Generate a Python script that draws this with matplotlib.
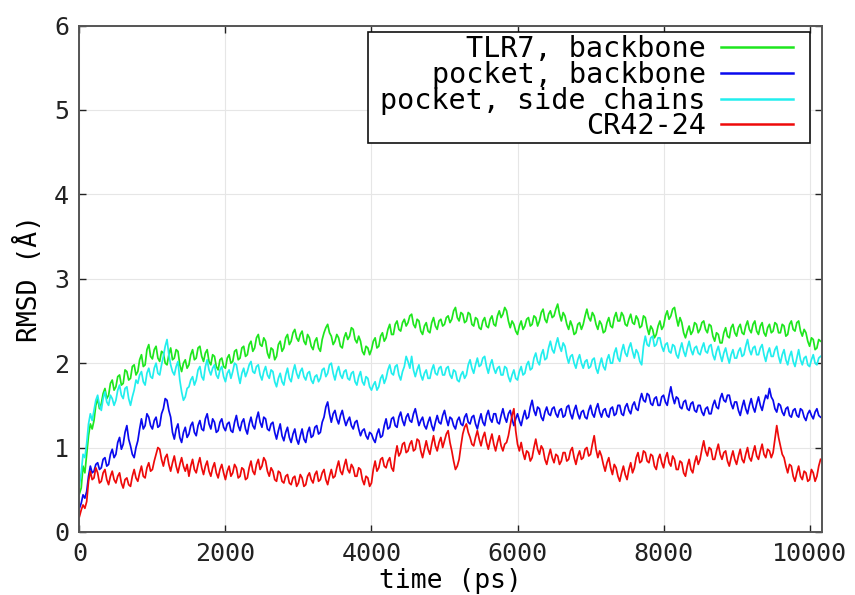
import matplotlib
matplotlib.use("Agg")
import matplotlib.pyplot as plt
from matplotlib.patches import Rectangle
import numpy as np

# time axis: one sample every 25 ps, 0 .. 10150 ps
time_ps = np.arange(0, 10151, 25)

tlr7_backbone = [
    0.45, 0.52, 0.78, 0.70, 0.92, 1.14, 1.28, 1.22, 1.32, 1.50, 1.58, 1.46, 1.52, 1.64, 1.70, 1.58, 1.62, 1.76, 1.80, 1.68,
    1.72, 1.84, 1.86, 1.74, 1.76, 1.92, 1.90, 1.80, 1.82, 1.96, 1.98, 1.86, 1.90, 2.04, 2.10, 1.96, 1.98, 2.16, 2.22, 2.08,
    2.05, 2.16, 2.20, 2.06, 2.02, 2.14, 2.12, 2.00, 1.98, 2.10, 2.18, 2.04, 2.06, 2.16, 2.14, 1.98, 1.90, 2.00, 2.04, 1.94,
    1.98, 2.10, 2.16, 2.04, 2.06, 2.18, 2.20, 2.08, 2.02, 2.12, 2.16, 2.02, 1.98, 2.10, 2.08, 1.96, 1.92, 2.04, 2.06, 1.96,
    1.94, 2.06, 2.10, 2.00, 2.02, 2.14, 2.16, 2.04, 2.06, 2.18, 2.20, 2.08, 2.10, 2.22, 2.26, 2.14, 2.18, 2.30, 2.34, 2.22,
    2.20, 2.30, 2.26, 2.12, 2.06, 2.18, 2.16, 2.04, 2.08, 2.22, 2.26, 2.14, 2.18, 2.30, 2.34, 2.22, 2.26, 2.36, 2.40, 2.30,
    2.26, 2.34, 2.38, 2.26, 2.22, 2.34, 2.30, 2.20, 2.16, 2.26, 2.30, 2.18, 2.14, 2.28, 2.36, 2.42, 2.46, 2.36, 2.32, 2.22,
    2.26, 2.34, 2.30, 2.20, 2.18, 2.30, 2.36, 2.28, 2.32, 2.42, 2.40, 2.28, 2.24, 2.32, 2.26, 2.14, 2.10, 2.20, 2.18, 2.10,
    2.16, 2.26, 2.30, 2.18, 2.20, 2.32, 2.36, 2.26, 2.30, 2.40, 2.46, 2.34, 2.34, 2.46, 2.50, 2.40, 2.38, 2.48, 2.52, 2.44,
    2.48, 2.56, 2.58, 2.46, 2.42, 2.52, 2.50, 2.38, 2.34, 2.44, 2.48, 2.38, 2.36, 2.48, 2.54, 2.44, 2.40, 2.50, 2.52, 2.44,
    2.46, 2.54, 2.56, 2.48, 2.52, 2.62, 2.66, 2.54, 2.50, 2.60, 2.58, 2.48, 2.50, 2.60, 2.58, 2.46, 2.44, 2.54, 2.52, 2.42,
    2.40, 2.50, 2.54, 2.44, 2.42, 2.52, 2.56, 2.46, 2.44, 2.56, 2.62, 2.54, 2.58, 2.66, 2.62, 2.50, 2.42, 2.50, 2.46, 2.38,
    2.34, 2.44, 2.50, 2.40, 2.44, 2.52, 2.54, 2.44, 2.46, 2.56, 2.54, 2.44, 2.50, 2.60, 2.64, 2.52, 2.48, 2.58, 2.62, 2.54,
    2.56, 2.64, 2.70, 2.58, 2.50, 2.60, 2.56, 2.46, 2.40, 2.50, 2.44, 2.34, 2.36, 2.46, 2.48, 2.40, 2.46, 2.56, 2.64, 2.54,
    2.50, 2.60, 2.56, 2.46, 2.40, 2.50, 2.46, 2.36, 2.38, 2.48, 2.54, 2.44, 2.42, 2.54, 2.60, 2.50, 2.50, 2.60, 2.56, 2.46,
    2.44, 2.52, 2.58, 2.48, 2.46, 2.56, 2.52, 2.42, 2.44, 2.56, 2.54, 2.42, 2.34, 2.44, 2.40, 2.30, 2.34, 2.44, 2.50, 2.40,
    2.44, 2.56, 2.62, 2.52, 2.56, 2.64, 2.66, 2.54, 2.44, 2.54, 2.48, 2.36, 2.30, 2.38, 2.44, 2.34, 2.38, 2.48, 2.46, 2.36,
    2.40, 2.48, 2.50, 2.40, 2.36, 2.46, 2.44, 2.32, 2.26, 2.36, 2.34, 2.24, 2.24, 2.36, 2.42, 2.32, 2.30, 2.42, 2.46, 2.36,
    2.32, 2.42, 2.46, 2.36, 2.34, 2.44, 2.50, 2.40, 2.36, 2.46, 2.50, 2.38, 2.34, 2.44, 2.48, 2.36, 2.32, 2.42, 2.46, 2.36,
    2.38, 2.48, 2.46, 2.36, 2.36, 2.46, 2.44, 2.32, 2.34, 2.46, 2.50, 2.40, 2.38, 2.48, 2.50, 2.38, 2.32, 2.40, 2.36, 2.26,
    2.20, 2.30, 2.28, 2.16, 2.18, 2.28, 2.26,
]

pocket_backbone = [
    0.28, 0.34, 0.44, 0.40, 0.48, 0.66, 0.78, 0.70, 0.72, 0.80, 0.82, 0.74, 0.76, 0.86, 0.88, 0.78, 0.80, 0.92, 0.98, 0.88,
    0.92, 1.06, 1.12, 0.98, 1.04, 1.18, 1.26, 1.10, 1.02, 0.92, 0.88, 1.00, 1.08, 1.22, 1.34, 1.22, 1.26, 1.40, 1.36, 1.26,
    1.22, 1.32, 1.36, 1.24, 1.26, 1.40, 1.46, 1.58, 1.56, 1.44, 1.36, 1.18, 1.10, 1.22, 1.28, 1.12, 1.06, 1.18, 1.24, 1.12,
    1.16, 1.26, 1.30, 1.18, 1.14, 1.26, 1.32, 1.22, 1.20, 1.34, 1.40, 1.28, 1.22, 1.34, 1.30, 1.18, 1.20, 1.30, 1.34, 1.24,
    1.20, 1.28, 1.30, 1.20, 1.18, 1.30, 1.38, 1.26, 1.20, 1.30, 1.34, 1.22, 1.16, 1.28, 1.36, 1.26, 1.22, 1.34, 1.42, 1.30,
    1.24, 1.36, 1.34, 1.22, 1.20, 1.28, 1.30, 1.18, 1.10, 1.20, 1.28, 1.14, 1.08, 1.18, 1.24, 1.12, 1.06, 1.16, 1.22, 1.10,
    1.04, 1.14, 1.22, 1.10, 1.06, 1.18, 1.24, 1.12, 1.14, 1.24, 1.26, 1.16, 1.18, 1.30, 1.36, 1.48, 1.54, 1.40, 1.30, 1.40,
    1.44, 1.34, 1.28, 1.38, 1.44, 1.34, 1.26, 1.32, 1.36, 1.26, 1.22, 1.30, 1.32, 1.22, 1.14, 1.20, 1.22, 1.14, 1.10, 1.18,
    1.16, 1.10, 1.06, 1.16, 1.22, 1.12, 1.14, 1.26, 1.34, 1.22, 1.24, 1.34, 1.36, 1.26, 1.24, 1.36, 1.42, 1.32, 1.26, 1.36,
    1.40, 1.32, 1.30, 1.40, 1.46, 1.36, 1.26, 1.32, 1.36, 1.26, 1.22, 1.30, 1.36, 1.26, 1.20, 1.30, 1.38, 1.30, 1.28, 1.38,
    1.44, 1.34, 1.26, 1.36, 1.34, 1.26, 1.22, 1.32, 1.36, 1.28, 1.26, 1.36, 1.40, 1.30, 1.28, 1.36, 1.38, 1.28, 1.22, 1.32,
    1.40, 1.30, 1.26, 1.38, 1.44, 1.34, 1.30, 1.40, 1.40, 1.30, 1.28, 1.38, 1.46, 1.36, 1.30, 1.40, 1.44, 1.34, 1.26, 1.34,
    1.40, 1.32, 1.26, 1.36, 1.44, 1.34, 1.36, 1.48, 1.56, 1.44, 1.38, 1.48, 1.46, 1.36, 1.32, 1.42, 1.48, 1.40, 1.38, 1.46,
    1.48, 1.40, 1.36, 1.44, 1.46, 1.36, 1.38, 1.48, 1.50, 1.40, 1.34, 1.44, 1.50, 1.40, 1.34, 1.42, 1.44, 1.36, 1.34, 1.44,
    1.50, 1.40, 1.36, 1.46, 1.52, 1.42, 1.36, 1.44, 1.46, 1.38, 1.36, 1.46, 1.48, 1.38, 1.40, 1.50, 1.50, 1.40, 1.38, 1.48,
    1.52, 1.44, 1.40, 1.50, 1.54, 1.46, 1.44, 1.56, 1.64, 1.56, 1.54, 1.64, 1.62, 1.52, 1.50, 1.58, 1.60, 1.50, 1.50, 1.60,
    1.62, 1.54, 1.50, 1.62, 1.72, 1.60, 1.52, 1.60, 1.58, 1.48, 1.46, 1.54, 1.56, 1.46, 1.44, 1.52, 1.54, 1.44, 1.42, 1.50,
    1.50, 1.42, 1.38, 1.46, 1.48, 1.40, 1.40, 1.50, 1.56, 1.48, 1.46, 1.58, 1.64, 1.56, 1.54, 1.62, 1.62, 1.52, 1.46, 1.54,
    1.54, 1.44, 1.38, 1.48, 1.56, 1.46, 1.40, 1.50, 1.58, 1.48, 1.42, 1.52, 1.60, 1.50, 1.44, 1.54, 1.62, 1.58, 1.70, 1.60,
    1.56, 1.46, 1.42, 1.52, 1.50, 1.42, 1.38, 1.46, 1.48, 1.38, 1.36, 1.44, 1.46, 1.38, 1.36, 1.46, 1.44, 1.36, 1.32, 1.40,
    1.44, 1.38, 1.34, 1.42, 1.46, 1.38, 1.36,
]

pocket_side_chains = [
    0.55, 0.70, 0.92, 0.88, 1.05, 1.28, 1.40, 1.32, 1.44, 1.56, 1.62, 1.50, 1.44, 1.58, 1.66, 1.54, 1.50, 1.62, 1.58, 1.50,
    1.56, 1.68, 1.74, 1.62, 1.58, 1.70, 1.72, 1.58, 1.50, 1.60, 1.68, 1.80, 1.76, 1.86, 1.90, 1.78, 1.74, 1.88, 1.94, 1.84,
    1.82, 1.94, 2.00, 1.88, 1.86, 1.98, 2.08, 2.20, 2.28, 2.10, 1.98, 1.90, 1.86, 1.96, 2.02, 1.80, 1.66, 1.56, 1.60, 1.70,
    1.72, 1.80, 1.84, 1.74, 1.80, 1.92, 1.96, 1.84, 1.80, 1.96, 2.04, 1.92, 1.86, 1.94, 1.98, 1.86, 1.82, 1.92, 1.96, 1.84,
    1.78, 1.88, 1.92, 1.82, 1.90, 2.00, 1.98, 1.86, 1.76, 1.88, 1.94, 1.84, 1.90, 1.98, 2.02, 1.90, 1.88, 1.96, 1.98, 1.86,
    1.80, 1.90, 1.96, 1.86, 1.82, 1.92, 1.90, 1.78, 1.72, 1.82, 1.88, 1.78, 1.74, 1.86, 1.94, 1.82, 1.78, 1.90, 1.98, 1.88,
    1.82, 1.90, 1.94, 1.84, 1.80, 1.88, 1.90, 1.80, 1.76, 1.84, 1.86, 1.78, 1.82, 1.92, 1.94, 1.84, 1.88, 1.98, 2.00, 1.88,
    1.80, 1.90, 1.96, 1.86, 1.82, 1.90, 1.92, 1.82, 1.80, 1.88, 1.90, 1.78, 1.74, 1.84, 1.90, 1.78, 1.74, 1.84, 1.82, 1.72,
    1.68, 1.74, 1.78, 1.68, 1.72, 1.82, 1.86, 1.76, 1.82, 1.92, 1.98, 1.88, 1.86, 1.96, 1.98, 1.86, 1.80, 1.90, 1.96, 2.08,
    2.02, 1.94, 2.08, 1.92, 1.84, 1.92, 1.98, 1.86, 1.80, 1.88, 1.92, 1.82, 1.82, 1.92, 1.98, 1.88, 1.86, 1.94, 1.96, 1.86,
    1.86, 1.94, 1.96, 1.86, 1.82, 1.92, 1.90, 1.80, 1.78, 1.86, 1.90, 1.82, 1.86, 1.98, 2.04, 1.94, 1.88, 1.98, 2.06, 1.96,
    1.98, 2.06, 2.08, 1.96, 1.88, 1.98, 2.04, 1.94, 1.88, 1.94, 1.96, 1.86, 1.86, 1.96, 1.94, 1.84, 1.78, 1.86, 1.92, 1.82,
    1.80, 1.90, 1.96, 1.86, 1.88, 1.98, 2.02, 1.92, 1.94, 2.06, 2.12, 2.02, 1.98, 2.10, 2.16, 2.04, 2.06, 2.18, 2.26, 2.16,
    2.12, 2.22, 2.30, 2.20, 2.14, 2.24, 2.20, 2.08, 2.00, 2.08, 2.10, 2.00, 1.94, 2.04, 2.10, 2.00, 1.94, 2.02, 2.04, 1.94,
    1.96, 2.04, 2.06, 1.94, 1.88, 1.98, 2.06, 1.96, 1.92, 2.04, 2.10, 2.00, 2.00, 2.12, 2.18, 2.06, 2.02, 2.14, 2.22, 2.12,
    2.08, 2.18, 2.24, 2.14, 2.06, 2.16, 2.12, 2.02, 1.98, 2.20, 2.32, 2.22, 2.20, 2.30, 2.32, 2.20, 2.22, 2.30, 2.30, 2.20,
    2.14, 2.22, 2.24, 2.14, 2.12, 2.22, 2.20, 2.10, 2.06, 2.16, 2.24, 2.14, 2.08, 2.18, 2.26, 2.16, 2.10, 2.18, 2.20, 2.12,
    2.10, 2.18, 2.24, 2.14, 2.12, 2.20, 2.22, 2.10, 2.04, 2.14, 2.20, 2.10, 2.02, 2.12, 2.18, 2.08, 2.00, 2.10, 2.16, 2.06,
    2.06, 2.14, 2.18, 2.08, 2.10, 2.20, 2.28, 2.16, 2.10, 2.18, 2.20, 2.10, 2.10, 2.18, 2.22, 2.10, 2.02, 2.12, 2.18, 2.08,
    2.08, 2.16, 2.20, 2.08, 2.00, 2.10, 2.16, 2.04, 1.98, 2.08, 2.14, 2.02, 1.96, 2.06, 2.16, 2.04, 1.98, 2.06, 2.08, 1.98,
    1.96, 2.04, 2.10, 2.00, 1.98, 2.06, 2.08,
]

cr42_24 = [
    0.18, 0.26, 0.32, 0.28, 0.36, 0.60, 0.72, 0.62, 0.64, 0.76, 0.70, 0.58, 0.60, 0.70, 0.74, 0.62, 0.56, 0.66, 0.72, 0.62,
    0.58, 0.66, 0.70, 0.58, 0.52, 0.62, 0.64, 0.56, 0.54, 0.66, 0.74, 0.64, 0.60, 0.70, 0.78, 0.66, 0.64, 0.76, 0.82, 0.72,
    0.74, 0.84, 0.92, 1.00, 0.98, 0.86, 0.78, 0.88, 0.92, 0.80, 0.72, 0.82, 0.90, 0.78, 0.70, 0.80, 0.88, 0.78, 0.72, 0.80,
    0.66, 0.78, 0.86, 0.74, 0.70, 0.80, 0.88, 0.76, 0.68, 0.78, 0.84, 0.72, 0.66, 0.76, 0.82, 0.70, 0.64, 0.74, 0.80, 0.70,
    0.62, 0.72, 0.78, 0.66, 0.70, 0.80, 0.76, 0.64, 0.66, 0.76, 0.74, 0.62, 0.64, 0.76, 0.84, 0.72, 0.68, 0.80, 0.86, 0.74,
    0.78, 0.88, 0.84, 0.72, 0.66, 0.76, 0.72, 0.62, 0.60, 0.72, 0.70, 0.60, 0.58, 0.66, 0.68, 0.58, 0.56, 0.64, 0.66, 0.54,
    0.58, 0.68, 0.64, 0.54, 0.56, 0.66, 0.70, 0.62, 0.58, 0.68, 0.72, 0.60, 0.62, 0.70, 0.74, 0.62, 0.56, 0.66, 0.74, 0.64,
    0.66, 0.76, 0.84, 0.72, 0.68, 0.78, 0.86, 0.74, 0.70, 0.80, 0.76, 0.66, 0.66, 0.76, 0.74, 0.62, 0.56, 0.66, 0.64, 0.54,
    0.58, 0.74, 0.84, 0.72, 0.76, 0.86, 0.88, 0.78, 0.76, 0.84, 0.88, 0.76, 0.72, 0.90, 1.02, 0.90, 0.94, 1.04, 1.06, 0.94,
    0.96, 1.04, 1.08, 0.96, 0.98, 1.10, 1.08, 0.96, 0.88, 0.98, 1.08, 0.98, 0.92, 1.04, 1.14, 1.02, 0.96, 1.06, 1.12, 1.00,
    1.08, 1.16, 1.20, 1.06, 0.96, 0.84, 0.74, 0.78, 0.86, 1.02, 1.16, 1.24, 1.28, 1.18, 1.12, 1.04, 1.02, 1.12, 1.20, 1.10,
    1.02, 1.12, 1.18, 1.06, 0.98, 1.08, 1.16, 1.04, 0.96, 1.06, 1.14, 1.02, 0.96, 1.04, 1.06, 1.14, 1.26, 1.38, 1.46, 1.20,
    1.04, 0.96, 1.06, 0.94, 0.86, 0.96, 0.94, 0.84, 0.88, 1.00, 1.10, 0.98, 0.92, 1.02, 0.98, 0.86, 0.80, 0.90, 0.98, 0.88,
    0.82, 0.92, 0.90, 0.80, 0.84, 0.94, 0.94, 0.84, 0.86, 0.96, 1.00, 0.88, 0.80, 0.90, 0.96, 0.86, 0.88, 0.98, 1.00, 0.90,
    0.92, 1.04, 1.14, 0.98, 0.88, 0.96, 0.90, 0.80, 0.72, 0.82, 0.88, 0.76, 0.68, 0.80, 0.76, 0.66, 0.60, 0.70, 0.78, 0.68,
    0.62, 0.74, 0.82, 0.70, 0.76, 0.88, 0.94, 0.82, 0.84, 0.96, 0.94, 0.84, 0.82, 0.92, 0.90, 0.78, 0.74, 0.86, 0.92, 0.82,
    0.76, 0.88, 0.94, 0.82, 0.78, 0.90, 0.86, 0.74, 0.74, 0.84, 0.82, 0.70, 0.66, 0.78, 0.86, 0.74, 0.70, 0.82, 0.90, 0.80,
    0.86, 0.98, 1.08, 0.96, 0.90, 1.00, 0.98, 0.86, 0.86, 0.96, 1.04, 0.92, 0.86, 0.94, 0.96, 0.84, 0.78, 0.88, 0.96, 0.86,
    0.80, 0.90, 0.98, 0.86, 0.82, 0.92, 1.00, 0.88, 0.84, 0.94, 1.02, 0.90, 0.86, 0.96, 1.04, 0.92, 0.88, 0.98, 0.96, 0.88,
    0.94, 1.10, 1.26, 1.12, 1.02, 0.92, 0.88, 0.78, 0.70, 0.80, 0.78, 0.66, 0.60, 0.70, 0.78, 0.66, 0.62, 0.72, 0.70, 0.60,
    0.62, 0.74, 0.70, 0.60, 0.66, 0.78, 0.86,
]

labels = ["TLR7, backbone", "pocket, backbone", "pocket, side chains", "CR42-24"]
colors = ["#1ee61e", "#0a0aee", "#22eeee", "#ee0a0a"]

plt.rcParams["font.family"] = ["DejaVu Sans Mono", "DejaVu Sans"]

fig = plt.figure(figsize=(8.55, 5.95), dpi=100)
ax = fig.add_axes([0.092, 0.106, 0.869, 0.851])

series = [tlr7_backbone, pocket_backbone, pocket_side_chains, cr42_24]
for ys, lab, col in zip(series, labels, colors):
    ax.plot(time_ps, ys, color=col, lw=1.25, label=lab)

ax.set_xlim(-10, 10165)
ax.set_ylim(0, 6)
ax.set_xticks([0, 2000, 4000, 6000, 8000, 10000])
ax.set_yticks(range(0, 7))
ax.grid(True, color="#e6e6e6", lw=0.8)
ax.set_axisbelow(True)

ax.tick_params(direction="in", length=5, width=1, top=True, right=True,
               labelsize=18, colors="#222222", pad=7)
for sp in ax.spines.values():
    sp.set_color("#555555")
    sp.set_linewidth(1.4)

ax.set_xlabel("time (ps)", fontsize=19, labelpad=2)
ax.set_ylabel("RMSD (Å)", fontsize=19, labelpad=8)

# legend frame drawn separately so it can have wider side padding
ax.add_patch(Rectangle((0.389, 0.768), 0.595, 0.220, transform=ax.transAxes,
                       facecolor="white", edgecolor="#111111", lw=1.2, zorder=4))
leg = ax.legend(loc="upper right", bbox_to_anchor=(0.961, 0.981), borderaxespad=0,
                markerfirst=False, fontsize=20.5, handlelength=2.5,
                handletextpad=0.56, labelspacing=-0.08, borderpad=0,
                frameon=False)
leg.set_zorder(5)
for h in leg.get_lines():
    h.set_linewidth(1.8)

fig.savefig("out.png", dpi=100)
